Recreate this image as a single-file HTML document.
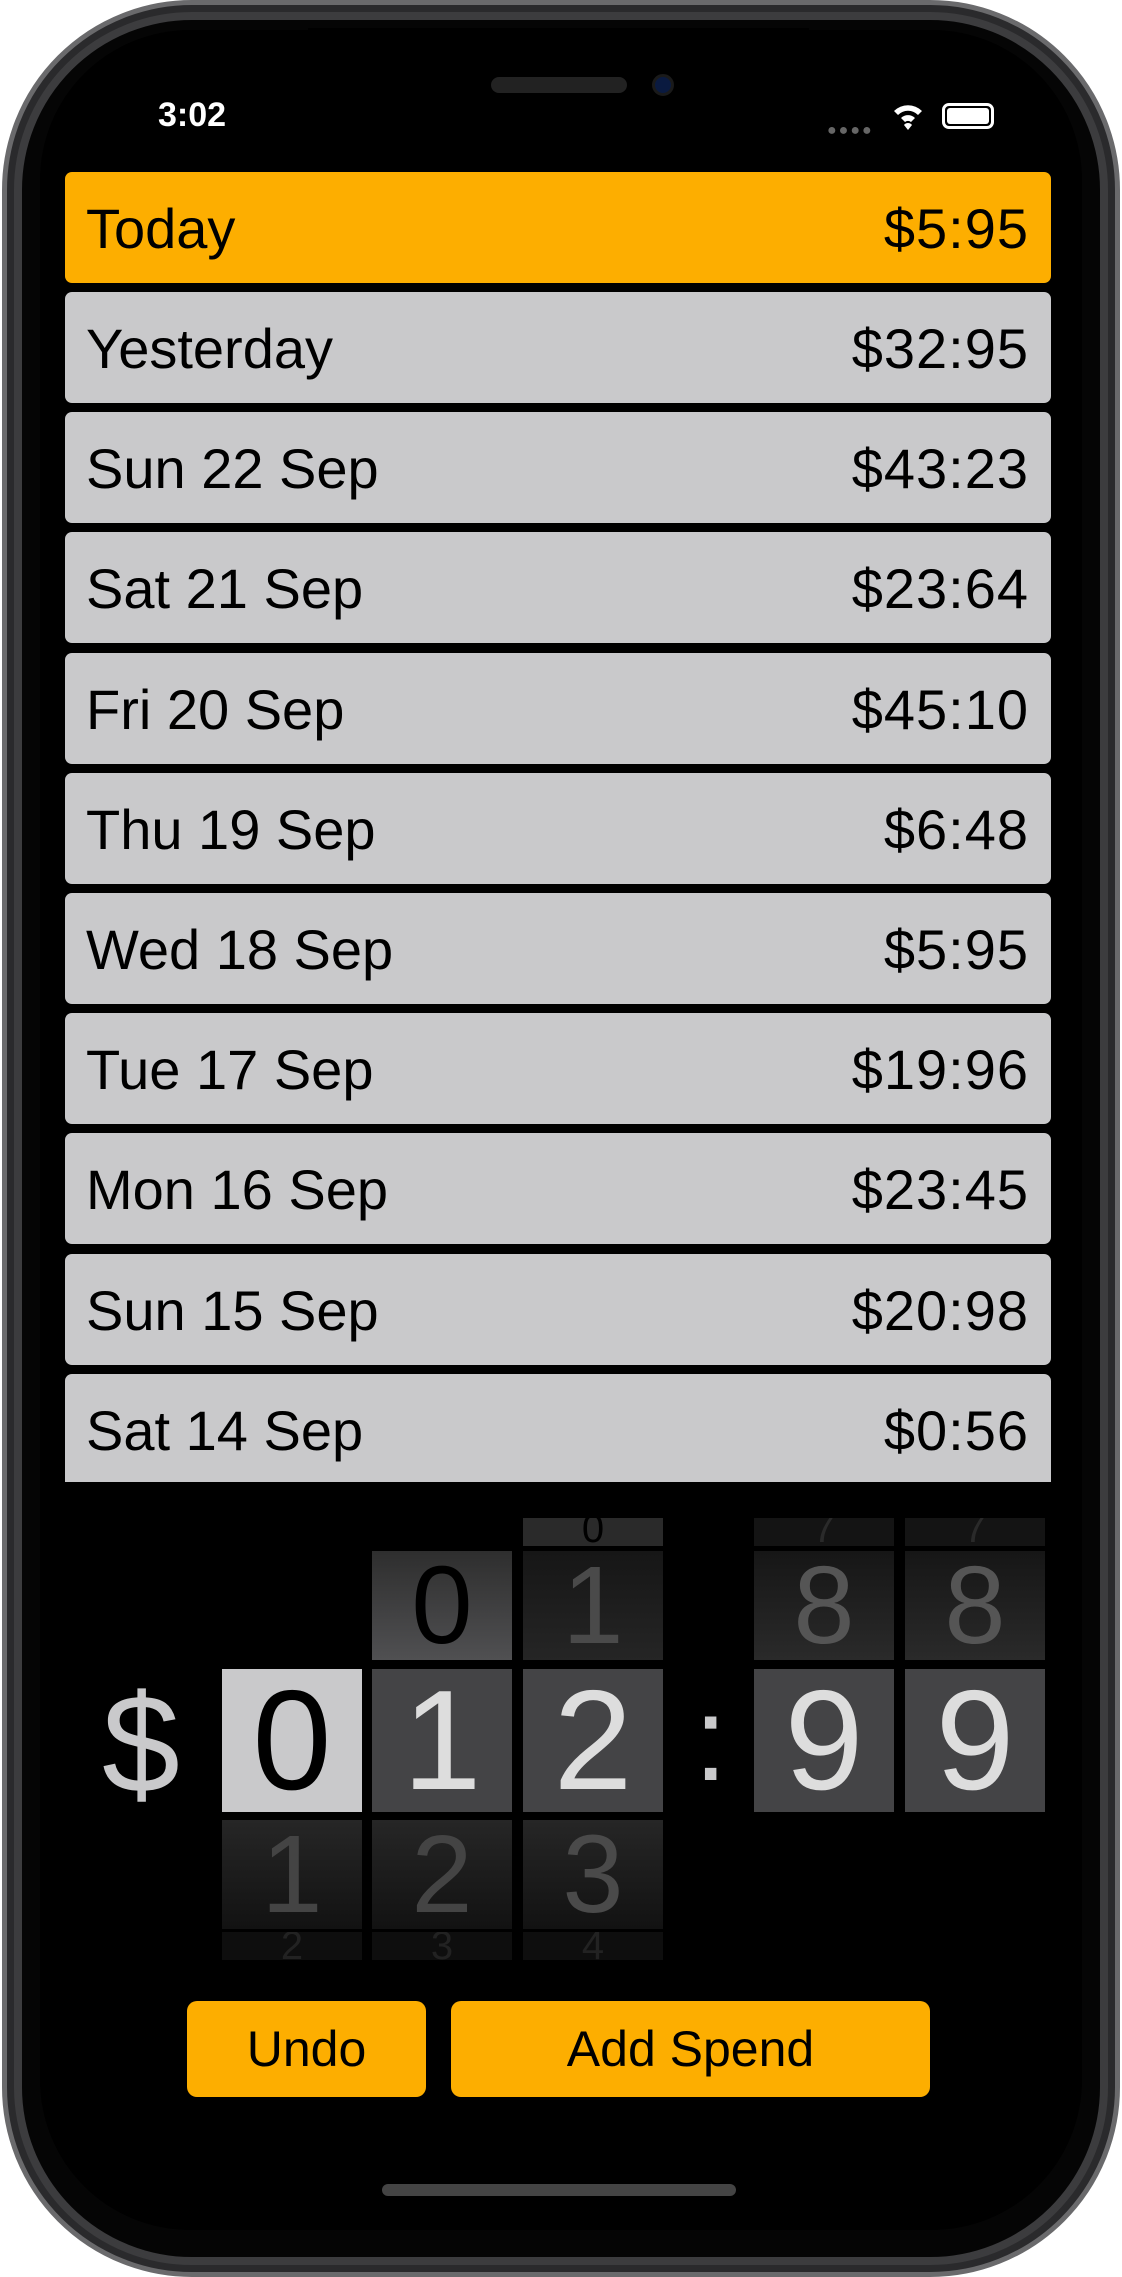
<!DOCTYPE html>
<html><head><meta charset="utf-8"><style>
*{margin:0;padding:0;box-sizing:border-box}
body{width:1122px;height:2277px;background:#fff;position:relative;overflow:hidden;font-family:"Liberation Sans",sans-serif}
.abs{position:absolute}
#frame{left:2px;top:0;width:1118px;height:2277px;border-radius:190px;background:#2a2a2c;border:5px solid #6a6a6c}
#ring{left:14px;top:12px;width:1094px;height:2253px;border-radius:178px;border:8px solid #3c3c3e;background:#050505}
#screen{left:40px;top:30px;width:1042px;height:2200px;border-radius:150px;background:#000}
.row{position:absolute;left:65px;width:986px;height:111px;background:#c9c9cb;border-radius:7px;font-size:56px;color:#000}
.row .l{position:absolute;left:21px;top:24px}
.row .r{position:absolute;right:22px;top:24px;letter-spacing:1px}
.cell{position:absolute;width:140px;text-align:center;overflow:hidden}
.btn{position:absolute;top:2001px;height:96px;background:#fdae00;border-radius:10px;font-size:50px;text-align:center;line-height:96px;color:#000}
</style></head><body>
<div id="frame" class="abs"></div>
<div id="ring" class="abs"></div>
<div id="screen" class="abs"></div>
<div class="abs" style="left:308px;top:28px;width:501px;height:105px;background:#000;border-radius:0 0 40px 40px"></div>
<div class="abs" style="left:491px;top:77px;width:136px;height:16px;background:#222;border-radius:8px"></div>
<div class="abs" style="left:652px;top:74px;width:22px;height:22px;background:#0a1a40;border:3px solid #1a1a1a;border-radius:50%"></div>
<div class="abs" style="left:158px;top:96px;font-size:34px;font-weight:bold;color:#fff">3:02</div>
<div class="abs" style="left:827px;top:122px;font-size:16px;color:#666;letter-spacing:2px">●●●●</div>
<svg class="abs" style="left:892px;top:100px" width="32" height="32" viewBox="0 0 32 32"><path d="M2 11 A20 20 0 0 1 30 11 L26 15 A14 14 0 0 0 6 15Z M9 18 A10 10 0 0 1 23 18 L19 22 A5 5 0 0 0 13 22Z M16 30 L12 25 A5 5 0 0 1 20 25Z" fill="#fff"/></svg>
<div class="abs" style="left:942px;top:103px;width:52px;height:26px;border:3px solid #fff;border-radius:7px;padding:2px"><div style="width:100%;height:100%;background:#fff;border-radius:3px"></div></div>

<div class="row" style="top:172px;background:#fdae00"><span class="l">Today</span><span class="r">$5:95</span></div>
<div class="row" style="top:292px"><span class="l">Yesterday</span><span class="r">$32:95</span></div>
<div class="row" style="top:412px"><span class="l">Sun 22 Sep</span><span class="r">$43:23</span></div>
<div class="row" style="top:532px"><span class="l">Sat 21 Sep</span><span class="r">$23:64</span></div>
<div class="row" style="top:653px"><span class="l">Fri 20 Sep</span><span class="r">$45:10</span></div>
<div class="row" style="top:773px"><span class="l">Thu 19 Sep</span><span class="r">$6:48</span></div>
<div class="row" style="top:893px"><span class="l">Wed 18 Sep</span><span class="r">$5:95</span></div>
<div class="row" style="top:1013px"><span class="l">Tue 17 Sep</span><span class="r">$19:96</span></div>
<div class="row" style="top:1133px"><span class="l">Mon 16 Sep</span><span class="r">$23:45</span></div>
<div class="row" style="top:1254px"><span class="l">Sun 15 Sep</span><span class="r">$20:98</span></div>
<div class="row" style="top:1374px;height:108px;border-radius:7px 7px 0 0"><span class="l">Sat 14 Sep</span><span class="r">$0:56</span></div>

<div class="cell" style="left:523px;top:1518px;height:28px;background:#2a2a2a;color:#000;font-size:40px;line-height:22px">0</div>
<div class="cell" style="left:754px;top:1518px;height:28px;background:#141414;color:#2a2a2a;font-size:40px;line-height:22px">7</div>
<div class="cell" style="left:905px;top:1518px;height:28px;background:#141414;color:#2a2a2a;font-size:40px;line-height:22px">7</div>
<div class="cell" style="left:372px;top:1551px;height:109px;background:linear-gradient(#2e2e2e,#505052);color:#000;font-size:110px;line-height:109px">0</div>
<div class="cell" style="left:523px;top:1551px;height:109px;background:linear-gradient(#161616,#252525);color:#4a4a4a;font-size:110px;line-height:109px">1</div>
<div class="cell" style="left:754px;top:1551px;height:109px;background:linear-gradient(#161616,#2a2a2a);color:#555;font-size:110px;line-height:109px">8</div>
<div class="cell" style="left:905px;top:1551px;height:109px;background:linear-gradient(#161616,#2a2a2a);color:#555;font-size:110px;line-height:109px">8</div>
<div class="abs" style="left:102px;top:1664px;font-size:140px;color:#c9c9cb;line-height:160px">$</div>
<div class="cell" style="left:222px;top:1669px;height:143px;background:#c9c9cb;color:#000;font-size:142px;line-height:143px">0</div>
<div class="cell" style="left:372px;top:1669px;height:143px;background:#444446;color:#ddd;font-size:142px;line-height:143px">1</div>
<div class="cell" style="left:523px;top:1669px;height:143px;background:#444446;color:#ddd;font-size:142px;line-height:143px">2</div>
<div class="abs" style="left:694px;top:1668px;font-size:120px;color:#c9c9cb;line-height:143px">:</div>
<div class="cell" style="left:754px;top:1669px;height:143px;background:#444446;color:#ddd;font-size:142px;line-height:143px">9</div>
<div class="cell" style="left:905px;top:1669px;height:143px;background:#444446;color:#ddd;font-size:142px;line-height:143px">9</div>
<div class="cell" style="left:222px;top:1820px;height:109px;background:linear-gradient(#262626,#121212);color:#444;font-size:110px;line-height:109px">1</div>
<div class="cell" style="left:372px;top:1820px;height:109px;background:linear-gradient(#262626,#121212);color:#444;font-size:110px;line-height:109px">2</div>
<div class="cell" style="left:523px;top:1820px;height:109px;background:linear-gradient(#262626,#121212);color:#4a4a4a;font-size:110px;line-height:109px">3</div>
<div class="cell" style="left:222px;top:1932px;height:28px;background:#0e0e0e;color:#222;font-size:40px;line-height:28px">2</div>
<div class="cell" style="left:372px;top:1932px;height:28px;background:#0e0e0e;color:#222;font-size:40px;line-height:28px">3</div>
<div class="cell" style="left:523px;top:1932px;height:28px;background:#0e0e0e;color:#222;font-size:40px;line-height:28px">4</div>

<div class="btn" style="left:187px;width:239px">Undo</div>
<div class="btn" style="left:451px;width:479px">Add Spend</div>
<div class="abs" style="left:382px;top:2184px;width:354px;height:12px;background:#444;border-radius:6px"></div>
</body></html>
